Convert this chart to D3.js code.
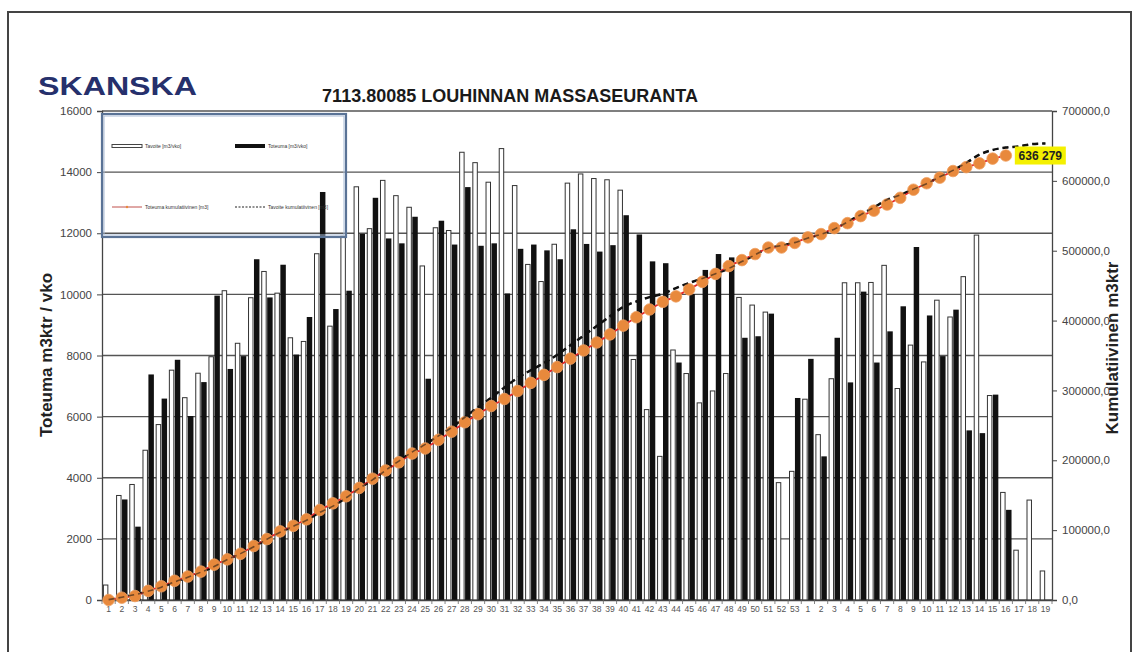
<!DOCTYPE html>
<html>
<head>
<meta charset="utf-8">
<script src="https://cdn.jsdelivr.net/npm/d3@7"></script>
<style>
  body { margin: 0; background: #fff; }
  svg { display: block; font-family: "Liberation Sans", Arial, sans-serif; }
</style>
</head>
<body>
<div id="chart"></div>
<script>
// week labels: 1..53 then 1..19
var weekLabels = [
  "1","2","3","4","5","6","7","8","9","10","11","12","13","14","15","16","17","18","19","20",
  "21","22","23","24","25","26","27","28","29","30","31","32","33","34","35","36","37","38","39","40",
  "41","42","43","44","45","46","47","48","49","50","51","52","53",
  "1","2","3","4","5","6","7","8","9","10","11","12","13","14","15","16","17","18","19"
];

// Tavoite [m3/vko] (white bars)
var tavoite = [
  490, 3420, 3780, 4900, 5740, 7520, 6620, 7420, 7960, 10120,
  8400, 9890, 10750, 10040, 8580, 8460, 11330, 8960, 11900, 13520,
  12150, 13730, 13230, 12850, 10930, 12180, 12090, 14650, 14310, 13670,
  14770, 13560, 10980, 10420, 11640, 13640, 13940, 13790, 13750, 13410,
  7870, 6230, 4700, 8180, 7410, 6450, 6840, 7410, 9900, 9650,
  9420, 3840, 4210,
  6570, 5410, 7240, 10380, 10380, 10390, 10950, 6920, 8340, 7790,
  9810, 9260, 10580, 11940, 6690, 3520, 1630, 3270, 950
];

// Toteuma [m3/vko] (black bars), null = no bar
var toteuma = [
  null, 3290, 2400, 7380, 6590, 7860, 6020, 7130, 9960, 7560,
  7980, 11150, 9900, 10970, 8030, 9260, 13350, 9520, 10120, 11980,
  13160, 11830, 11670, 12540, 7240, 12410, 11630, 13510, 11590, 11670,
  10030, 11490, 11630, 11440, 11150, 12130, 11650, 11400, 11610, 12590,
  11960, 11080, 11020, 7770, 10010, 10800, 11320, 11210, 8580, 8630,
  9370, null, 6610,
  7890, 4700, 8580, 7120, 10090, 7770, 8790, 9610, 11550, 9310,
  7980, 9500, 5550, 5460, 6720, 2950, null, null, null
];

// Toteuma kumulatiivinen [m3] (orange dots, up to week 16 of year 2)
var toteumaKum = [
  0, 3290, 5690, 13070, 19660, 27520, 33540, 40670, 50630, 58190,
  66170, 77320, 87220, 98190, 106220, 115480, 128830, 138350, 148470, 160450,
  173610, 185440, 197110, 209650, 216890, 229300, 240930, 254440, 266030, 277700,
  287730, 299220, 310850, 322290, 333440, 345570, 357220, 368620, 380230, 392820,
  404780, 415860, 426880, 434650, 444660, 455460, 466780, 477990, 486570, 495200,
  504570, 504570, 511180,
  519070, 523770, 532350, 539470, 549560, 557330, 566120, 575730, 587280, 596590,
  604570, 614070, 619620, 625080, 631800, 636279
];

// Tavoite kumulatiivinen [m3] (dashed line)
var tavoiteKum = [
  490, 3910, 7690, 12590, 18330, 25850, 32470, 39890, 47850, 57970,
  66370, 76260, 87010, 97050, 105630, 114090, 125420, 134380, 146280, 159800,
  171950, 185680, 198910, 211760, 222690, 234870, 246960, 261610, 275920, 289590,
  304360, 317920, 328900, 339320, 350960, 364600, 378540, 392330, 406080, 419490,
  427360, 433590, 438290, 446470, 453880, 460330, 467170, 474580, 484480, 494130,
  503550, 507390, 511600,
  518170, 523580, 530820, 541200, 551580, 561970, 572920, 579840, 588180, 595970,
  605780, 615040, 625620, 637560, 644250, 647770, 649400, 652670, 653620
];

var leftTicks = [0, 2000, 4000, 6000, 8000, 10000, 12000, 14000, 16000];
var rightTicks = [0, 100000, 200000, 300000, 400000, 500000, 600000, 700000];

var width = 1136, height = 652;
var plot = { left: 102, right: 1052, top: 111, bottom: 600 };

var svg = d3.select("#chart").append("svg")
  .attr("width", width)
  .attr("height", height);

// outer frame
svg.append("rect")
  .attr("x", 8).attr("y", 12)
  .attr("width", 1123).attr("height", 660)
  .attr("fill", "#fff")
  .attr("stroke", "#444")
  .attr("stroke-width", 2);

var idx = d3.range(weekLabels.length);

var x = d3.scaleBand()
  .domain(idx)
  .range([plot.left, plot.right]);

var xs = d3.scaleBand()
  .domain(["tavoite", "toteuma"])
  .range([0, x.bandwidth()])
  .paddingInner(0.08)
  .paddingOuter(0.15);

var yL = d3.scaleLinear().domain([0, 16000]).range([plot.bottom, plot.top]);
var yR = d3.scaleLinear().domain([0, 700000]).range([plot.bottom, plot.top]);

// gridlines
svg.append("g")
  .selectAll("line")
  .data(leftTicks)
  .enter()
  .append("line")
  .attr("x1", plot.left).attr("x2", plot.right)
  .attr("y1", function (d) { return yL(d); })
  .attr("y2", function (d) { return yL(d); })
  .attr("stroke", "#555")
  .attr("stroke-width", 1.3);

// white bars
svg.append("g")
  .selectAll("rect")
  .data(tavoite)
  .enter()
  .append("rect")
  .attr("x", function (d, i) { return x(i) + xs("tavoite") + 0.5; })
  .attr("y", function (d) { return yL(d); })
  .attr("width", xs.bandwidth() - 1)
  .attr("height", function (d) { return yL(0) - yL(d); })
  .attr("fill", "#fff")
  .attr("stroke", "#333")
  .attr("stroke-width", 1);

// black bars
svg.append("g")
  .selectAll("rect")
  .data(toteuma.map(function (d, i) { return { i: i, v: d }; }).filter(function (d) { return d.v !== null; }))
  .enter()
  .append("rect")
  .attr("x", function (d) { return x(d.i) + xs("toteuma"); })
  .attr("y", function (d) { return yL(d.v); })
  .attr("width", xs.bandwidth())
  .attr("height", function (d) { return yL(0) - yL(d.v); })
  .attr("fill", "#111");

// axes
var axisL = svg.append("g")
  .attr("transform", "translate(" + plot.left + ",0)")
  .call(d3.axisLeft(yL).tickValues(leftTicks).tickSize(5).tickPadding(5).tickFormat(d3.format("d")));

var axisR = svg.append("g")
  .attr("transform", "translate(" + plot.right + ",0)")
  .call(d3.axisRight(yR).tickValues(rightTicks).tickSize(5).tickPadding(5)
    .tickFormat(function (d) { return d + ",0"; }));

[axisL, axisR].forEach(function (a) {
  a.select(".domain").attr("stroke", "#444").attr("stroke-width", 1.3);
  a.selectAll(".tick line").attr("stroke", "#444");
  a.selectAll(".tick text")
    .attr("fill", "#444")
    .style("font-size", "11.5px")
    .style("font-family", "Liberation Sans, Arial, sans-serif");
});

// x axis
var axisX = svg.append("g")
  .attr("transform", "translate(0," + plot.bottom + ")")
  .call(d3.axisBottom(x).tickSize(0).tickPadding(6).tickFormat(function (d) { return weekLabels[d]; }));
axisX.select(".domain").attr("stroke", "#444").attr("stroke-width", 1.3);
axisX.selectAll(".tick text")
  .attr("fill", "#555")
  .style("font-size", "8.5px")
  .style("font-family", "Liberation Sans, Arial, sans-serif");

// small marks between weeks
svg.append("g")
  .selectAll("line")
  .data(idx.concat([idx.length]))
  .enter()
  .append("line")
  .attr("x1", function (d) { return plot.left + d * x.step(); })
  .attr("x2", function (d) { return plot.left + d * x.step(); })
  .attr("y1", plot.bottom)
  .attr("y2", plot.bottom + 4)
  .attr("stroke", "#666")
  .attr("stroke-width", 0.8);

var cx = function (i) { return x(i) + x.bandwidth() / 2; };

// tavoite cumulative, dashed
var lineTav = d3.line()
  .x(function (d, i) { return cx(i); })
  .y(function (d) { return yR(d); })
  .curve(d3.curveMonotoneX);

svg.append("path")
  .datum(tavoiteKum)
  .attr("d", lineTav)
  .attr("fill", "none")
  .attr("stroke", "#111")
  .attr("stroke-width", 2.5)
  .attr("stroke-dasharray", "6,4");

// toteuma cumulative, red line with orange dots
var lineTot = d3.line()
  .x(function (d, i) { return cx(i); })
  .y(function (d) { return yR(d); });

svg.append("path")
  .datum(toteumaKum)
  .attr("d", lineTot)
  .attr("fill", "none")
  .attr("stroke", "#e3262a")
  .attr("stroke-width", 1.8);

svg.append("g")
  .selectAll("circle")
  .data(toteumaKum)
  .enter()
  .append("circle")
  .attr("cx", function (d, i) { return cx(i); })
  .attr("cy", function (d) { return yR(d); })
  .attr("r", 5.8)
  .attr("fill", "#e8893c")
  .attr("stroke", "#f0a060")
  .attr("stroke-width", 0.8);

// dashes shown over the dots as in the reference
svg.append("path")
  .datum(tavoiteKum)
  .attr("d", lineTav)
  .attr("fill", "none")
  .attr("stroke", "#111")
  .attr("stroke-width", 1.6)
  .attr("stroke-opacity", 0.55)
  .attr("stroke-dasharray", "6,4");

// label of last value
var lastI = toteumaKum.length - 1;
var lab = svg.append("g")
  .attr("transform", "translate(" + (cx(lastI) + 9) + "," + yR(toteumaKum[lastI]) + ")");
lab.append("rect")
  .attr("x", 0).attr("y", -9)
  .attr("width", 51).attr("height", 18)
  .attr("fill", "#f4f000");
lab.append("text")
  .attr("x", 25.5).attr("y", 4.5)
  .attr("text-anchor", "middle")
  .style("font-size", "12px")
  .style("font-weight", "bold")
  .attr("fill", "#222")
  .text(d3.format(",")(toteumaKum[lastI]).replace(",", " "));

// legend box
var leg = svg.append("g");
leg.append("rect")
  .attr("x", 102).attr("y", 114)
  .attr("width", 244).attr("height", 123)
  .attr("fill", "none")
  .attr("stroke", "#5a7396")
  .attr("stroke-width", 2.2);
leg.append("rect")
  .attr("x", 104).attr("y", 116)
  .attr("width", 240).attr("height", 119)
  .attr("fill", "none")
  .attr("stroke", "#a9bcd6")
  .attr("stroke-width", 1);

var legText = function (tx, ty, t) {
  leg.append("text")
    .attr("x", tx).attr("y", ty + 1.8)
    .style("font-size", "5px")
    .attr("fill", "#333")
    .text(t);
};
leg.append("rect").attr("x", 112).attr("y", 144.5).attr("width", 30).attr("height", 3)
  .attr("fill", "#fff").attr("stroke", "#444").attr("stroke-width", 1);
legText(145, 146, "Tavoite [m3/vko]");
leg.append("rect").attr("x", 235).attr("y", 144).attr("width", 30).attr("height", 4).attr("fill", "#111");
legText(268, 146, "Toteuma [m3/vko]");
leg.append("line").attr("x1", 112).attr("x2", 142).attr("y1", 207).attr("y2", 207)
  .attr("stroke", "#c0504d").attr("stroke-width", 1);
leg.append("circle").attr("cx", 127).attr("cy", 207).attr("r", 1.2).attr("fill", "#e8893c");
legText(145, 207, "Toteuma kumulatiivinen [m3]");
leg.append("line").attr("x1", 235).attr("x2", 265).attr("y1", 207).attr("y2", 207)
  .attr("stroke", "#222").attr("stroke-width", 1.2).attr("stroke-dasharray", "2,1.5");
legText(268, 207, "Tavoite kumulatiivinen [m3]");

// logo
svg.append("text")
  .attr("x", 38).attr("y", 95)
  .attr("textLength", 159)
  .attr("lengthAdjust", "spacingAndGlyphs")
  .style("font-size", "26px")
  .style("font-weight", "900")
  .attr("fill", "#26306c")
  .text("SKANSKA");

// title
svg.append("text")
  .attr("x", 510).attr("y", 102)
  .attr("text-anchor", "middle")
  .style("font-size", "18px")
  .style("font-weight", "bold")
  .attr("fill", "#1a1a1a")
  .text("7113.80085 LOUHINNAN MASSASEURANTA");

// axis titles
svg.append("text")
  .attr("transform", "translate(52,355) rotate(-90)")
  .attr("text-anchor", "middle")
  .style("font-size", "17px")
  .style("font-weight", "bold")
  .attr("fill", "#222")
  .text("Toteuma m3ktr / vko");

svg.append("text")
  .attr("transform", "translate(1118,348) rotate(-90)")
  .attr("text-anchor", "middle")
  .style("font-size", "17px")
  .style("font-weight", "bold")
  .attr("fill", "#222")
  .text("Kumulatiivinen m3ktr");
</script>
</body>
</html>
